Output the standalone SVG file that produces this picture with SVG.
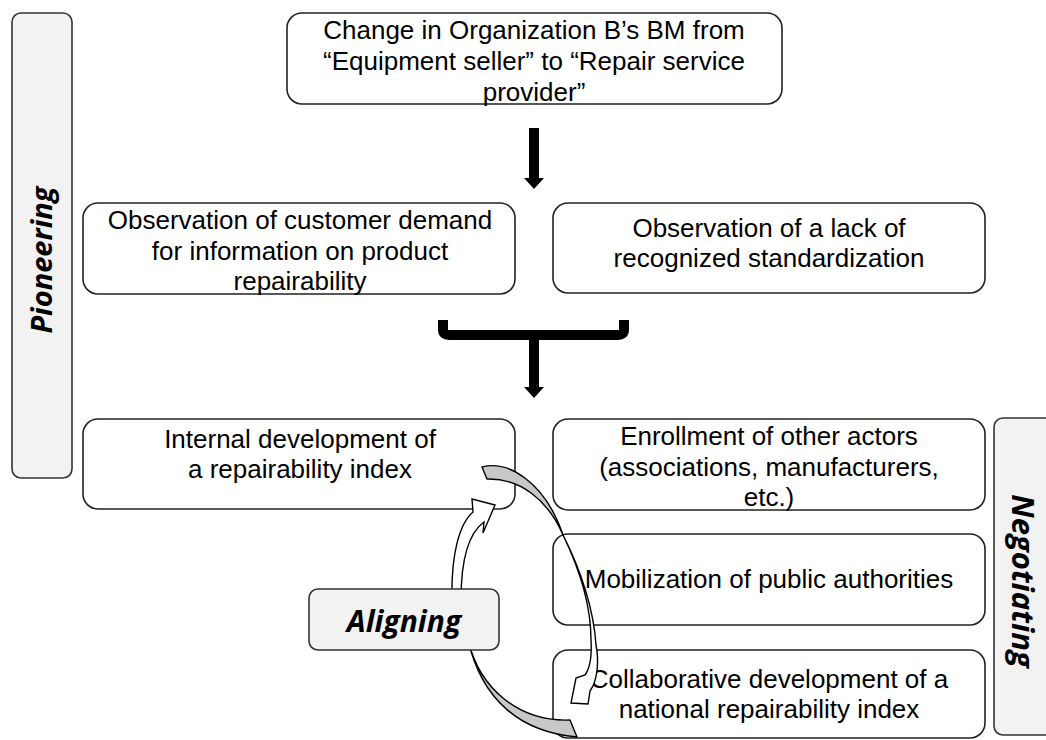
<svg xmlns="http://www.w3.org/2000/svg" width="1046" height="740" viewBox="0 0 1046 740">
<style>
.box{fill:#fff;stroke:#222;stroke-width:1.6}
.side{fill:#f2f2f2;stroke:#333;stroke-width:1.6}
.t{font-family:"Liberation Sans",Arial,sans-serif;font-size:26px;fill:#000;text-anchor:middle}
.s{font-family:"Open Sans",sans-serif;font-weight:bold;font-style:italic;fill:#000;text-anchor:middle}
.blk{fill:#000}
.gray{fill:#c8c8c8;stroke:#000;stroke-width:1.4;stroke-linejoin:round}
.wht{fill:#fff;stroke:#000;stroke-width:1.4;stroke-linejoin:miter}
</style>
<rect width="1046" height="740" fill="#fff"/>
<g id="pioneering">
<rect class="side" x="12" y="13" width="60" height="465" rx="9"/>
<text class="s" font-size="29" transform="translate(52,260) rotate(-90)">Pioneering</text>
</g>
<g id="negotiating">
<rect class="side" x="994" y="418" width="70" height="317" rx="9"/>
<text class="s" font-size="31" transform="translate(1012,581) rotate(90)">Negotiating</text>
</g>
<g id="bm-change">
<rect class="box" x="287" y="13" width="495" height="91" rx="15"/>
<text class="t" x="534" y="39">Change in Organization B’s BM from</text>
<text class="t" x="534" y="70">“Equipment seller” to “Repair service</text>
<text class="t" x="534" y="101">provider”</text>
</g>
<g id="obs-demand">
<rect class="box" x="83" y="203" width="432" height="91" rx="15"/>
<text class="t" x="300" y="229">Observation of customer demand</text>
<text class="t" x="300" y="260">for information on product</text>
<text class="t" x="300" y="290">repairability</text>
</g>
<g id="obs-standard">
<rect class="box" x="553" y="203" width="432" height="90" rx="15"/>
<text class="t" x="769" y="237">Observation of a lack of</text>
<text class="t" x="769" y="267">recognized standardization</text>
</g>
<g id="internal-dev">
<rect class="box" x="83" y="419" width="432" height="90" rx="15"/>
<text class="t" x="300" y="448">Internal development of</text>
<text class="t" x="300" y="478">a repairability index</text>
</g>
<g id="enrollment">
<rect class="box" x="553" y="419" width="432" height="91" rx="15"/>
<text class="t" x="769" y="445">Enrollment of other actors</text>
<text class="t" x="769" y="476">(associations, manufacturers,</text>
<text class="t" x="769" y="506">etc.)</text>
</g>
<g id="mobilization">
<rect class="box" x="553" y="534" width="432" height="91" rx="15"/>
<text class="t" x="769" y="588">Mobilization of public authorities</text>
</g>
<g id="collaborative">
<rect class="box" x="553" y="650" width="432" height="88" rx="15"/>
<text class="t" x="769" y="688">Collaborative development of a</text>
<text class="t" x="769" y="718">national repairability index</text>
</g>
<g id="connectors">
<polygon class="blk" points="529,128 539,128 539,178 544,178 534,189 524,178 529,178"/>
<path d="M443,320 L443,330 Q443,335 449,335 L618,335 Q624,335 624,330 L624,320" fill="none" stroke="#000" stroke-width="10" stroke-linejoin="round"/>
<polygon class="blk" points="529,335 539,335 539,387 544,387 534,398 524,387 529,387"/>
<path class="gray" d="M468,640 C480,690 520,722 570,720 L577,737 C520,732 482,700 468,640 Z"/>
<path class="wht" d="M452,600 C451,555 459,524 473,512 L472,499 L495,505 L483,533 L484,522 C470,532 461,555 461,600 Z"/>
<path class="gray" d="M482,467 C508,460 545,482 563,535 C548,500 520,478 487,479 Z"/>
<path class="wht" d="M563,535 C580,570 591,608 591,640 C592,656 590,668 585,675 L576,678 L571,703 L588,704 L590,691 C598,680 599,660 596,645 C594,612 582,572 563,535 Z"/>
</g>
<g id="aligning">
<rect x="309" y="589" width="190" height="61" rx="9" fill="#f2f2f2" stroke="#333" stroke-width="1.6"/>
<text class="s" font-size="30" x="404" y="632">Aligning</text>
</g>
</svg>
